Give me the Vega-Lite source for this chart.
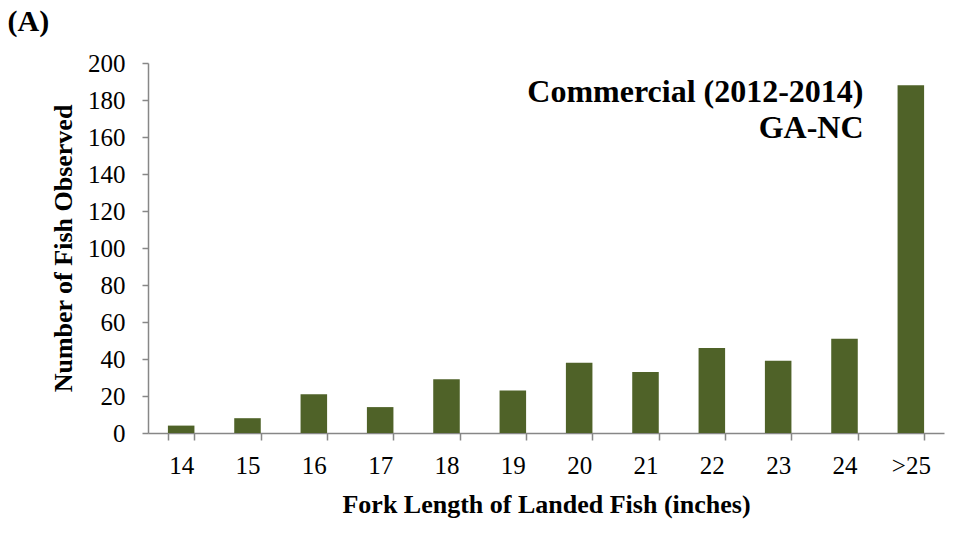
{
  "$schema": "https://vega.github.io/schema/vega-lite/v6.json",
  "width": 796,
  "height": 370,
  "padding": {"left": 7, "top": 7, "right": 5, "bottom": 5},
  "background": "white",
  "title": {
    "text": "(A)",
    "anchor": "start",
    "frame": "bounds",
    "font": "Liberation Serif",
    "fontSize": 30,
    "fontWeight": "bold",
    "color": "black",
    "offset": 14,
    "dx": -43
  },
  "config": {
    "view": {"stroke": null},
    "axis": {
      "labelFont": "Liberation Serif",
      "titleFont": "Liberation Serif",
      "labelColor": "black",
      "titleColor": "black",
      "domainColor": "#878787",
      "tickColor": "#878787",
      "domainWidth": 1.5,
      "tickWidth": 1.5,
      "grid": false,
      "labelOverlap": false
    }
  },
  "layer": [
    {
      "data": {
        "values": [
          {"length": "14", "count": 4},
          {"length": "15", "count": 8},
          {"length": "16", "count": 21},
          {"length": "17", "count": 14},
          {"length": "18", "count": 29},
          {"length": "19", "count": 23},
          {"length": "20", "count": 38},
          {"length": "21", "count": 33},
          {"length": "22", "count": 46},
          {"length": "23", "count": 39},
          {"length": "24", "count": 51},
          {"length": ">25", "count": 188}
        ]
      },
      "mark": {"type": "bar", "color": "#4F6228"},
      "encoding": {
        "x": {
          "field": "length",
          "type": "nominal",
          "sort": null,
          "scale": {"paddingInner": 0.6, "paddingOuter": 0.3},
          "axis": {
            "title": "Fork Length of Landed Fish (inches)",
            "labelAngle": 0,
            "labelFontSize": 25,
            "titleFontSize": 26,
            "titleFontWeight": "bold",
            "tickBand": "extent",
            "tickSize": 7,
            "labelPadding": 13,
            "titlePadding": 13
          }
        },
        "y": {
          "field": "count",
          "type": "quantitative",
          "scale": {"domain": [0, 200], "nice": false},
          "axis": {
            "title": "Number of Fish Observed",
            "values": [0, 20, 40, 60, 80, 100, 120, 140, 160, 180, 200],
            "tickCount": 11,
            "labelFontSize": 25,
            "titleFontSize": 26,
            "titleFontWeight": "bold",
            "tickSize": 6,
            "labelPadding": 17,
            "titlePadding": 11
          }
        }
      }
    },
    {
      "data": {"values": [{}]},
      "mark": {
        "type": "text",
        "text": ["Commercial (2012-2014)", "GA-NC"],
        "font": "Liberation Serif",
        "fontSize": 32,
        "fontWeight": "bold",
        "align": "right",
        "baseline": "alphabetic",
        "lineHeight": 36,
        "dx": 19,
        "color": "black"
      },
      "encoding": {
        "x": {"datum": "24"},
        "y": {"datum": 179}
      }
    }
  ]
}
